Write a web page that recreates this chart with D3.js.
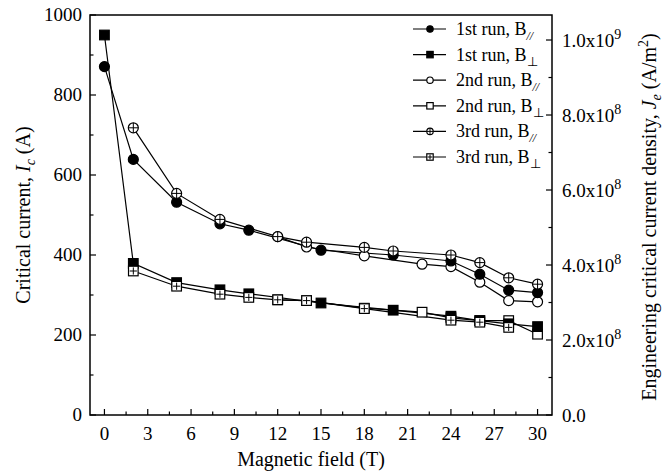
<!DOCTYPE html>
<html>
<head>
<meta charset="utf-8">
<script src="https://cdn.jsdelivr.net/npm/d3@7"></script>
<style>
  body { margin: 0; background: #fff; }
  text { font-family: "Liberation Serif", "Times New Roman", serif; fill: #000; }
</style>
</head>
<body>
<svg id="chart" width="671" height="471"></svg>
<script>
// data (field in T, critical current in A)
const run1ParField = [0, 2, 5, 8, 10, 15, 20, 24, 26, 28, 30];
const run1ParIc    = [871, 639, 532, 478, 462, 412, 400, 385, 352, 312, 306];
const run1PerpField = [0, 2, 5, 8, 10, 15, 20, 24, 26, 28, 30];
const run1PerpIc    = [950, 379, 331, 313, 303, 280, 262, 247, 236, 228, 221];
const run2ParField = [12, 14, 18, 22, 24, 26, 28, 30];
const run2ParIc    = [446, 420, 398, 377, 371, 332, 286, 283];
const run2PerpField = [12, 14, 18, 22, 24, 26, 28, 30];
const run2PerpIc    = [288, 286, 267, 257, 243, 236, 236, 202];
const run3ParField = [2, 5, 8, 12, 14, 18, 20, 24, 26, 28, 30];
const run3ParIc    = [718, 554, 489, 446, 432, 419, 410, 400, 381, 343, 327];
const run3PerpField = [2, 5, 8, 10, 12, 14, 18, 24, 26, 28];
const run3PerpIc    = [360, 322, 302, 294, 288, 286, 266, 237, 232, 219];

const xTicks = [0, 3, 6, 9, 12, 15, 18, 21, 24, 27, 30];
const yTicks = [0, 200, 400, 600, 800, 1000];
const jeTicks = [0, 2e8, 4e8, 6e8, 8e8, 1e9];

// series: label, marker type, drawn in this order
const series = [
  { run: '2nd run', dir: 'par',  marker: 'openCircle',   x: run2ParField,  y: run2ParIc },
  { run: '2nd run', dir: 'perp', marker: 'openSquare',   x: run2PerpField, y: run2PerpIc },
  { run: '1st run', dir: 'par',  marker: 'filledCircle', x: run1ParField,  y: run1ParIc },
  { run: '1st run', dir: 'perp', marker: 'filledSquare', x: run1PerpField, y: run1PerpIc },
  { run: '3rd run', dir: 'par',  marker: 'crossCircle',  x: run3ParField,  y: run3ParIc },
  { run: '3rd run', dir: 'perp', marker: 'crossSquare',  x: run3PerpField, y: run3PerpIc }
];
const legendOrder = [2, 3, 0, 1, 4, 5];

const svg = d3.select('#chart');
const plotL = 90, plotR = 552, plotT = 15, plotB = 415;

const x = d3.scaleLinear().domain([-1, 31]).range([plotL, plotR]);
const y = d3.scaleLinear().domain([0, 1000]).range([plotB, plotT]);
const yJe = d3.scaleLinear().domain([0, 1000 * 1.0667e6]).range([plotB, plotT]);

// frame
svg.append('rect')
  .attr('x', plotL).attr('y', plotT)
  .attr('width', plotR - plotL).attr('height', plotB - plotT)
  .attr('fill', 'none').attr('stroke', '#000').attr('stroke-width', 1.5);

// ticks (inward)
const tickG = svg.append('g').attr('stroke', '#000').attr('stroke-width', 1.2);
d3.range(0, 30.01, 1.5).forEach(v => {
  const major = Math.abs(v % 3) < 1e-6;
  tickG.append('line').attr('x1', x(v)).attr('x2', x(v))
    .attr('y1', plotB).attr('y2', plotB - (major ? 6 : 3.5));
});
d3.range(0, 1001, 100).forEach(v => {
  const major = v % 200 === 0;
  tickG.append('line').attr('x1', plotL).attr('x2', plotL + (major ? 6 : 3.5))
    .attr('y1', y(v)).attr('y2', y(v));
});
d3.range(0, 1.0001e9, 1e8).forEach((v, i) => {
  const major = i % 2 === 0;
  tickG.append('line').attr('x1', plotR).attr('x2', plotR - (major ? 6 : 3.5))
    .attr('y1', yJe(v)).attr('y2', yJe(v));
});

// tick labels
svg.append('g').selectAll('text').data(xTicks).join('text')
  .attr('x', d => x(d)).attr('y', 440)
  .attr('text-anchor', 'middle').style('font-size', '19px')
  .text(d => d);

svg.append('g').selectAll('text').data(yTicks).join('text')
  .attr('x', 82).attr('y', d => y(d) + 6)
  .attr('text-anchor', 'end').style('font-size', '19px')
  .text(d => d);

svg.append('g').selectAll('text').data(jeTicks).join('text')
  .attr('x', 562).attr('y', d => yJe(d) + 7)
  .style('font-size', '19px')
  .each(function (d) {
    const t = d3.select(this);
    if (d === 0) { t.text('0.0'); return; }
    const exp = Math.floor(Math.log10(d));
    const mant = (d / Math.pow(10, exp)).toFixed(1);
    t.append('tspan').text(mant + 'x10');
    t.append('tspan').attr('dy', -8).style('font-size', '14px').text(exp);
  });

// axis titles
svg.append('text')
  .attr('x', (plotL + plotR) / 2 - 10).attr('y', 466)
  .attr('text-anchor', 'middle').style('font-size', '20px')
  .text('Magnetic field (T)');

const yTitle = svg.append('text')
  .attr('transform', `translate(30,${(plotT + plotB) / 2}) rotate(-90)`)
  .attr('text-anchor', 'middle').style('font-size', '20px');
yTitle.append('tspan').text('Critical current, ');
yTitle.append('tspan').style('font-style', 'italic').text('I');
yTitle.append('tspan').attr('dy', 5).style('font-style', 'italic').style('font-size', '14px').text('c');
yTitle.append('tspan').attr('dy', -5).text(' (A)');

const jeTitle = svg.append('text')
  .attr('transform', `translate(656,${(plotT + plotB) / 2 + 2}) rotate(-90)`)
  .attr('text-anchor', 'middle').style('font-size', '20px');
jeTitle.append('tspan').text('Engineering critical current density, ');
jeTitle.append('tspan').style('font-style', 'italic').text('J');
jeTitle.append('tspan').attr('dy', 5).style('font-style', 'italic').style('font-size', '14px').text('e');
jeTitle.append('tspan').attr('dy', -5).text(' (A/m');
jeTitle.append('tspan').attr('dy', -8).style('font-size', '14px').text('2');
jeTitle.append('tspan').attr('dy', 8).text(')');

// marker drawing
function drawMarker(g, type, cx, cy, s) {
  const filled = type.startsWith('filled');
  const fill = filled ? '#000' : '#fff';
  if (type.endsWith('Circle')) {
    g.append('circle').attr('cx', cx).attr('cy', cy).attr('r', s)
      .attr('fill', fill).attr('stroke', '#000').attr('stroke-width', 1.2);
  } else {
    g.append('rect').attr('x', cx - s).attr('y', cy - s)
      .attr('width', 2 * s).attr('height', 2 * s)
      .attr('fill', fill).attr('stroke', '#000').attr('stroke-width', 1.2);
  }
  if (type.startsWith('cross')) {
    const c = type === 'crossCircle' ? s : s * 0.75;
    g.append('line').attr('x1', cx - c).attr('x2', cx + c).attr('y1', cy).attr('y2', cy)
      .attr('stroke', '#000').attr('stroke-width', 1);
    g.append('line').attr('x1', cx).attr('x2', cx).attr('y1', cy - c).attr('y2', cy + c)
      .attr('stroke', '#000').attr('stroke-width', 1);
  }
}

const line = d3.line().x(d => x(d[0])).y(d => y(d[1]));
const lineG = svg.append('g');
series.forEach(s => {
  const pts = s.x.map((v, i) => [v, s.y[i]]);
  lineG.append('path').datum(pts).attr('d', line)
    .attr('fill', 'none').attr('stroke', '#000').attr('stroke-width', 1.2);
});
const markG = svg.append('g');
series.forEach(s => {
  s.x.forEach((v, i) => drawMarker(markG, s.marker, x(v), y(s.y[i]), s.marker.endsWith('Circle') ? 5 : 4.8));
});

// legend
const legG = svg.append('g');
legendOrder.forEach((si, k) => {
  const s = series[si];
  const ly = 29 + k * 25.6;
  legG.append('line').attr('x1', 413).attr('x2', 446).attr('y1', ly).attr('y2', ly)
    .attr('stroke', '#000').attr('stroke-width', 1.2);
  drawMarker(legG, s.marker, 430, ly, 3.2);
  const t = legG.append('text').attr('x', 456).attr('y', ly + 6).style('font-size', '18px');
  t.append('tspan').text(s.run + ', B');
  if (s.dir === 'par') {
    t.append('tspan').attr('dy', 5).style('font-size', '12px').style('font-style', 'italic').text('//');
  } else {
    t.append('tspan').attr('dy', 5).style('font-size', '13px').text('\u22A5');
  }
});
</script>
</body>
</html>
